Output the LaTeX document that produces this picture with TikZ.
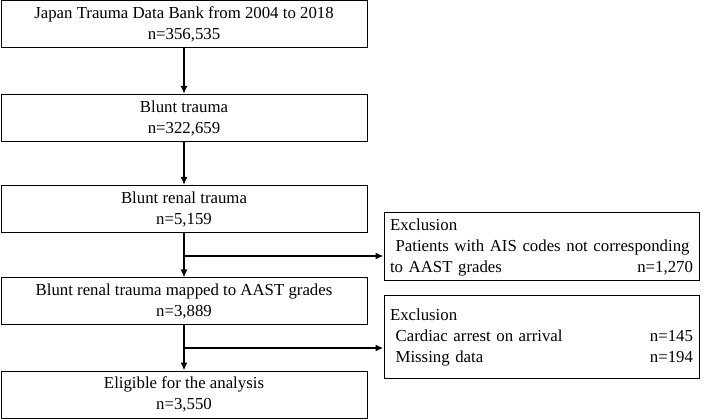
\documentclass[tikz,border=0pt]{standalone}
\usepackage{fontspec}
\setmainfont{Liberation Serif}
\usepackage{tikz}
\usetikzlibrary{positioning}
\usetikzlibrary{arrows.meta}

\newcommand{\alderecho}{\hskip 0pt plus 1filll\relax}

\begin{document}
\begin{tikzpicture}[x=1pt, y=-1pt,
    every node/.style={draw, line width=1pt, inner sep=0pt, font=\fontsize{16.8}{21}\selectfont},
    caja/.style={minimum width=366pt, minimum height=47pt, align=center},
    exclu/.style={minimum width=315pt, text width=303pt, align=left},
    flecha/.style={line width=2.8pt, -{Latex[length=8pt, width=7pt]}}]
            \useasboundingbox (0,0) rectangle (709,419);
            % Nodos
            \node[caja] (jtdb) at (184,24.5) {Japan Trauma Data Bank from 2004 to 2018\\n=356,535};
            \node[caja] (blunt) at (184,118) {Blunt trauma\\n=322,659};
            \node[caja] (renal) at (184,209) {Blunt renal trauma\\n=5,159};
            \node[caja] (aast) at (184,301.5) {Blunt renal trauma mapped to AAST grades\\n=3,889};
            \node[caja] (elig) at (184,394.5) {Eligible for the analysis\\n=3,550};
            \node[exclu, minimum height=68pt] (excA) at (541.5,247) {Exclusion\\
              \ Patients with AIS codes not corresponding\\
              to AAST grades\alderecho n=1,270};
            \node[exclu, minimum height=82pt] (excB) at (541.5,337) {Exclusion\\
              \ Cardiac arrest on arrival\alderecho n=145\\
              \ Missing data\alderecho n=194};
            \coordinate (rA) at (184,256);
            \coordinate (rB) at (184,348);

            % Aristas
            \draw[flecha] (jtdb) -- (blunt);
            \draw[flecha] (blunt) -- (renal);
            \draw[flecha] (renal) -- (aast);
            \draw[flecha] (aast) -- (elig);
            \draw[flecha] (rA) -- (rA -| excA.west);
            \draw[flecha] (rB) -- (rB -| excB.west);
\end{tikzpicture}
\end{document}
